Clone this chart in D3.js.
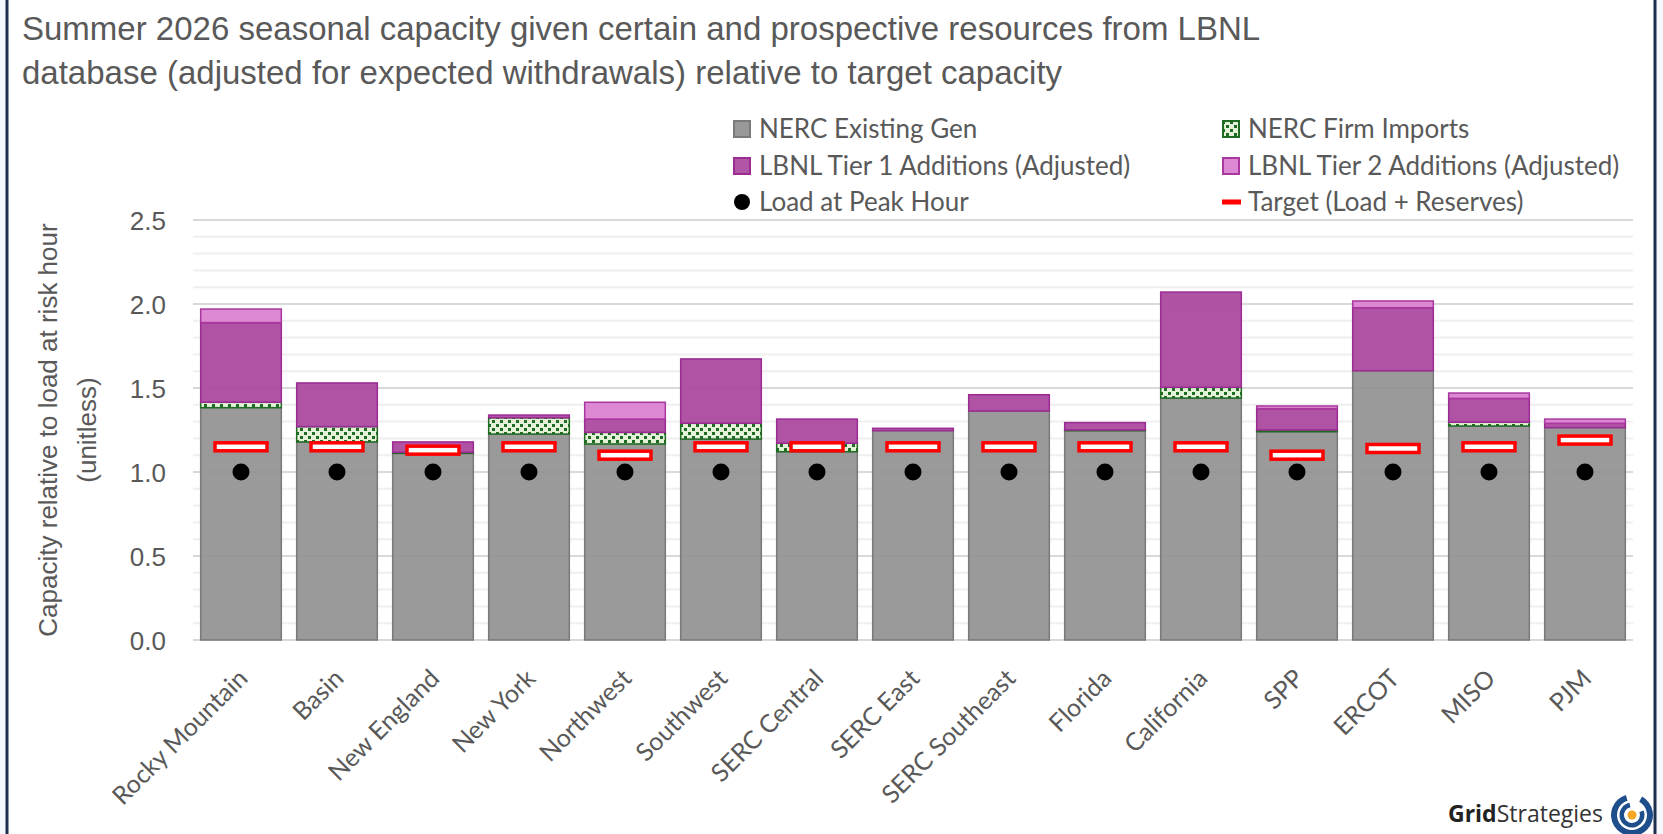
<!DOCTYPE html>
<html>
<head>
<meta charset="utf-8">
<script src="https://cdn.jsdelivr.net/npm/d3@7"></script>
<style>
  body { margin: 0; background: #f4f8fc; }
  svg { display: block; }
</style>
</head>
<body>
<div id="chart"></div>
<script>
// chart data
var regions = ["Rocky Mountain", "Basin", "New England", "New York", "Northwest", "Southwest",
	"SERC Central", "SERC East", "SERC Southeast", "Florida", "California", "SPP", "ERCOT", "MISO", "PJM"];
var existingGen = [1.383, 1.179, 1.111, 1.226, 1.167, 1.196, 1.121, 1.246, 1.363, 1.246, 1.440, 1.240, 1.603, 1.274, 1.264];
var firmImports = [0.032, 0.091, 0.006, 0.097, 0.069, 0.094, 0.050, 0, 0, 0.004, 0.064, 0.010, 0, 0.022, 0];
var tier1 = [0.474, 0.260, 0.062, 0.016, 0.079, 0.383, 0.144, 0.014, 0.097, 0.044, 0.567, 0.127, 0.375, 0.142, 0.026];
var tier2 = [0.081, 0, 0, 0, 0.100, 0, 0, 0, 0, 0, 0, 0.016, 0.040, 0.032, 0.025];
var loadPeak = [1, 1, 1, 1, 1, 1, 1, 1, 1, 1, 1, 1, 1, 1, 1];
var target = [1.15, 1.15, 1.13, 1.15, 1.10, 1.15, 1.15, 1.15, 1.15, 1.15, 1.15, 1.10, 1.14, 1.15, 1.19];
var yTicks = [0, 0.5, 1.0, 1.5, 2.0, 2.5];

var W = 1663, H = 834;
var plot = { left: 193, right: 1633, top: 220, bottom: 640 };
var txtColor = "#595959";
var bodyFont = "Lato, 'Open Sans', sans-serif";

var svg = d3.select("#chart").append("svg")
	.attr("width", W)
	.attr("height", H);

// white card with navy frame
svg.append("rect")
	.attr("x", 7).attr("y", -10)
	.attr("width", 1648).attr("height", H + 20)
	.attr("fill", "#ffffff")
	.attr("stroke", "#1c2f4f")
	.attr("stroke-width", 3);

// pattern for firm imports
var defs = svg.append("defs");
var pat = defs.append("pattern")
	.attr("id", "imports")
	.attr("patternUnits", "userSpaceOnUse")
	.attr("width", 8).attr("height", 8);
pat.append("rect").attr("width", 8).attr("height", 8).attr("fill", "#e4f2da");
pat.append("rect").attr("x", 0).attr("y", 0).attr("width", 3).attr("height", 3).attr("fill", "#1e6b22");
pat.append("rect").attr("x", 4).attr("y", 4).attr("width", 3).attr("height", 3).attr("fill", "#1e6b22");

// title
var title = svg.append("text")
	.attr("font-family", "'Liberation Sans', Arial, sans-serif")
	.attr("font-size", 33)
	.attr("fill", txtColor);
title.append("tspan").attr("x", 22).attr("y", 40)
	.text("Summer 2026 seasonal capacity given certain and prospective resources from LBNL");
title.append("tspan").attr("x", 22).attr("y", 84)
	.text("database (adjusted for expected withdrawals) relative to target capacity");

// scales
var x = d3.scaleBand()
	.domain(regions)
	.range([plot.left, plot.right])
	.paddingInner(0.16)
	.paddingOuter(0.08);

var y = d3.scaleLinear()
	.domain([0, 2.5])
	.range([plot.bottom, plot.top]);

// gridlines, minor then major
var minor = d3.range(0, 26).map(function(i) { return i / 10; });
svg.append("g")
	.selectAll("line")
	.data(minor.filter(function(v) { return Math.round(v * 10) % 5 !== 0; }))
	.enter().append("line")
	.attr("x1", plot.left).attr("x2", plot.right)
	.attr("y1", function(d) { return y(d); })
	.attr("y2", function(d) { return y(d); })
	.attr("stroke", "#efefef")
	.attr("stroke-width", 2);

svg.append("g")
	.selectAll("line")
	.data(yTicks)
	.enter().append("line")
	.attr("x1", plot.left).attr("x2", plot.right)
	.attr("y1", function(d) { return y(d); })
	.attr("y2", function(d) { return y(d); })
	.attr("stroke", "#d9d9d9")
	.attr("stroke-width", 2);

// y axis labels
var yAxis = svg.append("g")
	.attr("transform", "translate(" + (plot.left - 27) + ",0)")
	.call(d3.axisLeft(y).tickValues(yTicks).tickSize(0).tickFormat(d3.format(".1f")));
yAxis.select(".domain").remove();
yAxis.selectAll("text")
	.attr("font-family", "'Liberation Sans', Arial, sans-serif")
	.attr("font-size", 26)
	.attr("fill", txtColor)
	.attr("x", 0)
	.attr("dy", "0.35em");

// y axis title
var yTitle = svg.append("text")
	.attr("transform", "translate(57,430) rotate(-90)")
	.attr("text-anchor", "middle")
	.attr("font-family", "'Liberation Sans', Arial, sans-serif")
	.attr("font-size", 26)
	.attr("fill", txtColor);
yTitle.append("tspan").attr("x", 0).attr("y", 0).text("Capacity relative to load at risk hour");
yTitle.append("tspan").attr("x", 0).attr("y", 39).text("(unitless)");

// stacked segments
var series = [
	{ key: "existing", values: existingGen, fill: "#8f8f8f", stroke: "#7a7a7a", opacity: 0.9 },
	{ key: "imports", values: firmImports, fill: "url(#imports)", stroke: "#1e6b22", opacity: 1 },
	{ key: "tier1", values: tier1, fill: "#ad4aa0", stroke: "#9c2a93", opacity: 0.95 },
	{ key: "tier2", values: tier2, fill: "#dd88d3", stroke: "#a9379f", opacity: 1 }
];

var stacked = regions.map(function(r, i) {
	var base = 0;
	return series.map(function(s) {
		var seg = { region: r, key: s.key, y0: base, y1: base + s.values[i], s: s };
		base += s.values[i];
		return seg;
	});
});

var bars = svg.append("g");
stacked.forEach(function(segs) {
	bars.selectAll(null)
		.data(segs.filter(function(d) { return d.y1 - d.y0 > 0; }))
		.enter().append("rect")
		.attr("x", function(d) { return x(d.region); })
		.attr("width", x.bandwidth())
		.attr("y", function(d) { return y(d.y1); })
		.attr("height", function(d) { return y(d.y0) - y(d.y1); })
		.attr("fill", function(d) { return d.s.fill; })
		.attr("fill-opacity", function(d) { return d.s.opacity; })
		.attr("stroke", function(d) { return d.s.stroke; })
		.attr("stroke-width", 1.5);
});

// target markers
svg.append("g")
	.selectAll("rect")
	.data(regions)
	.enter().append("rect")
	.attr("x", function(d) { return x(d) + x.bandwidth() / 2 - 26; })
	.attr("y", function(d, i) { return y(target[i]) - 4; })
	.attr("width", 52)
	.attr("height", 8)
	.attr("fill", "#ffffff")
	.attr("stroke", "#ff0000")
	.attr("stroke-width", 3.5);

// load dots
svg.append("g")
	.selectAll("circle")
	.data(regions)
	.enter().append("circle")
	.attr("cx", function(d) { return x(d) + x.bandwidth() / 2; })
	.attr("cy", function(d, i) { return y(loadPeak[i]); })
	.attr("r", 8.5)
	.attr("fill", "#000000");

// x axis labels
var xAxis = svg.append("g")
	.attr("transform", "translate(0," + plot.bottom + ")")
	.call(d3.axisBottom(x).tickSize(0));
xAxis.select(".domain").remove();
xAxis.selectAll("text")
	.attr("font-family", bodyFont)
	.attr("font-size", 25)
	.attr("fill", txtColor)
	.attr("text-anchor", "end")
	.attr("y", 0)
	.attr("dy", 0)
	.attr("transform", "translate(8,40) rotate(-45)");

// legend
var legendItems = [
	{ label: "NERC Existing Gen", type: "rect", fill: "#999999", stroke: "#7a7a7a", col: 0, row: 0 },
	{ label: "NERC Firm Imports", type: "rect", fill: "url(#imports)", stroke: "#1e6b22", col: 1, row: 0 },
	{ label: "LBNL Tier 1 Additions (Adjusted)", type: "rect", fill: "#b255a6", stroke: "#9c2a93", col: 0, row: 1 },
	{ label: "LBNL Tier 2 Additions (Adjusted)", type: "rect", fill: "#dd88d3", stroke: "#a9379f", col: 1, row: 1 },
	{ label: "Load at Peak Hour", type: "dot", col: 0, row: 2 },
	{ label: "Target (Load + Reserves)", type: "line", col: 1, row: 2 }
];
var legendX = [733, 1222];
var legendY = [129, 166, 202];

var leg = svg.append("g")
	.selectAll("g")
	.data(legendItems)
	.enter().append("g")
	.attr("transform", function(d) { return "translate(" + legendX[d.col] + "," + legendY[d.row] + ")"; });

leg.filter(function(d) { return d.type === "rect"; })
	.append("rect")
	.attr("x", 1).attr("y", -8)
	.attr("width", 16).attr("height", 16)
	.attr("fill", function(d) { return d.fill; })
	.attr("stroke", function(d) { return d.stroke; })
	.attr("stroke-width", 2);
leg.filter(function(d) { return d.type === "dot"; })
	.append("circle")
	.attr("cx", 9).attr("cy", 0).attr("r", 8)
	.attr("fill", "#000000");
leg.filter(function(d) { return d.type === "line"; })
	.append("rect")
	.attr("x", 0).attr("y", -2.5)
	.attr("width", 19).attr("height", 5)
	.attr("fill", "#ff0000");
leg.append("text")
	.attr("x", 26)
	.attr("dy", "0.36em")
	.attr("font-family", bodyFont)
	.attr("font-size", 26)
	.attr("fill", txtColor)
	.text(function(d) { return d.label; });

// logo
var logo = svg.append("g").attr("transform", "translate(1448,822)");
var logoText = logo.append("text")
	.attr("font-family", "'Open Sans', sans-serif")
	.attr("font-size", 23);
logoText.append("tspan").attr("font-weight", "bold").attr("fill", "#222222").text("Grid");
logoText.append("tspan").attr("fill", "#333333").text("Strategies");

var icon = svg.append("g").attr("transform", "translate(1632,815)");
var arc = d3.arc();
icon.append("path")
	.attr("d", arc({ innerRadius: 15, outerRadius: 21, startAngle: 0.5, endAngle: 2 * Math.PI - 0.3 }))
	.attr("fill", "#1f4e8c");
icon.append("path")
	.attr("d", arc({ innerRadius: 8, outerRadius: 12.5, startAngle: 1.2, endAngle: 2 * Math.PI - 0.2 }))
	.attr("fill", "#1f4e8c");
icon.append("circle").attr("r", 4.5).attr("fill", "#f5a623");
</script>
</body>
</html>
